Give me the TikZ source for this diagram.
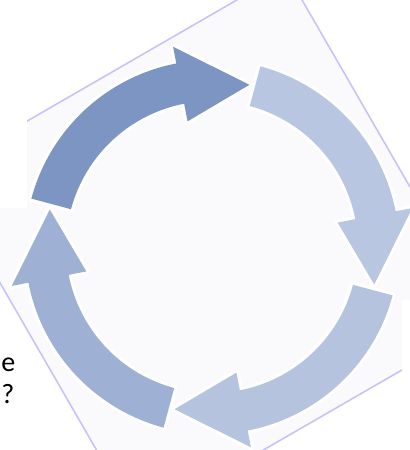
\documentclass[tikz,border=0pt]{standalone}
\usepackage{fontspec}
\setsansfont{Carlito}
\definecolor{squarebg}{RGB}{250,250,252}
\definecolor{squareline}{RGB}{196,192,250}
\definecolor{arrowdark}{RGB}{125,149,194}
\definecolor{arrowleft}{RGB}{158,176,212}
\definecolor{arrowright}{RGB}{184,198,225}
\definecolor{arrowlow}{RGB}{181,195,223}
\begin{document}
\begin{tikzpicture}[x=0.5pt,y=0.5pt,line join=round,
  frameline/.style={draw=squareline,line width=0.75pt},
  cover/.style={fill=white},
  block/.style={preaction={draw=white,line width=3pt}},
  cut/.style={font=\sffamily\fontsize{14}{17}\selectfont,inner sep=0pt,anchor=base west}]

\useasboundingbox (-212,-203) rectangle (198,247);

% --- Quadrato ruotato ---
\filldraw[frameline,fill=squarebg,rotate=30] (-201.5,-201.5) rectangle (201.5,201.5);

% --- Zone coperte ---
\fill[cover] (-212,39) rectangle (-185,247);
\fill[cover] (190,-53) rectangle (198,-203);
\fill[cover] (-212,-96) rectangle (-180,-203);

% --- Freccia in alto a sinistra ---
\fill[block,arrowdark] (165:187) arc[start angle=165,end angle=101,radius=187]
  -- (101:204) -- (77:166.5) -- (101:128) -- (101:146)
  arc[start angle=101,end angle=165,radius=146] -- cycle;

% --- Freccia a destra ---
\fill[block,arrowright] (75:187) arc[start angle=75,end angle=11,radius=187]
  -- (11:204) -- (-13:166.5) -- (11:128) -- (11:146)
  arc[start angle=11,end angle=75,radius=146] -- cycle;

% --- Freccia in basso a destra ---
\fill[block,arrowlow] (-15:187) arc[start angle=-15,end angle=-79,radius=187]
  -- (-79:204) -- (-103:166.5) -- (-79:128) -- (-79:146)
  arc[start angle=-79,end angle=-15,radius=146] -- cycle;

% --- Freccia a sinistra ---
\fill[block,arrowleft] (-105:187) arc[start angle=-105,end angle=-169,radius=187]
  -- (-169:204) -- (-193:166.5) -- (-169:128) -- (-169:146)
  arc[start angle=-169,end angle=-105,radius=146] -- cycle;

% --- Testo ---
\node[cut] (lineE) at (-211,-124) {e};
\node[cut] (lineQ) at (-211,-156) {?};

\end{tikzpicture}
\end{document}
